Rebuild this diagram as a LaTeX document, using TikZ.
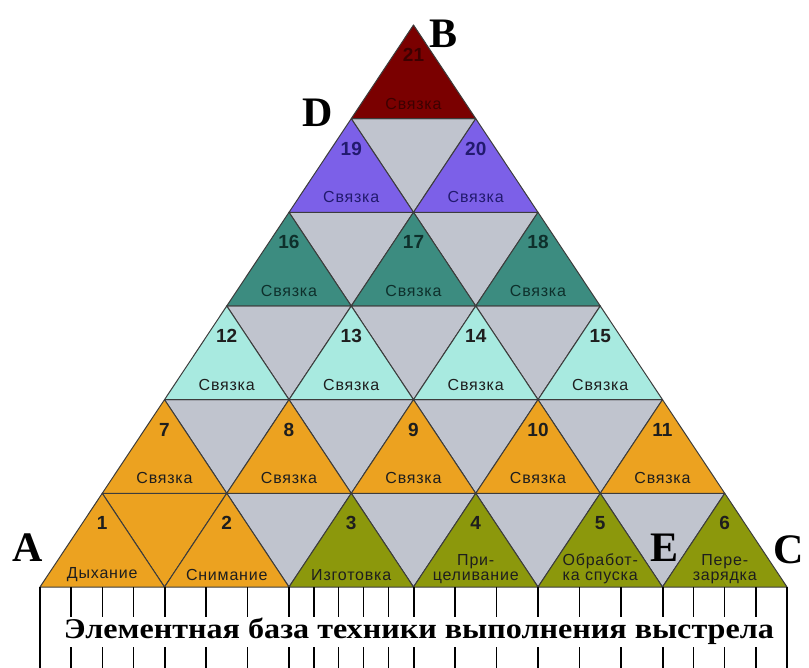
\documentclass[tikz,border=0pt]{standalone}
\usepackage{fontspec}
\usepackage{graphicx}
\setmainfont{Liberation Serif}
\newfontfamily\labelfont[LetterSpace=5]{Liberation Sans}
\newfontfamily\numfont{Liberation Sans}

\definecolor{orangeT}{RGB}{236,162,32}
\definecolor{oliveT}{RGB}{140,152,12}
\definecolor{grayT}{RGB}{192,196,206}
\definecolor{cyanT}{RGB}{168,234,224}
\definecolor{tealT}{RGB}{60,140,128}
\definecolor{violetT}{RGB}{124,96,232}
\definecolor{redT}{RGB}{122,0,0}
\definecolor{edge}{RGB}{60,60,60}
\definecolor{inkDark}{RGB}{30,30,30}
\definecolor{inkTeal}{RGB}{14,48,44}
\definecolor{inkViolet}{RGB}{34,26,110}
\definecolor{inkRed}{RGB}{60,0,0}

\begin{document}
\begin{tikzpicture}[x=1pt, y=-1pt,
	tri/.style={draw=edge, line width=1pt, line join=round},
	num/.style={font=\numfont\bfseries\fontsize{19}{19}\selectfont, text=inkDark},
	lbl/.style={font=\labelfont\fontsize{16}{15}\selectfont, align=center, text=inkDark},
	corner/.style={font=\bfseries\fontsize{42}{42}\selectfont},
	major/.style={line width=2pt},
	minor/.style={line width=1.3pt}]
	\useasboundingbox (0,0) rectangle (809,668);
	% inverted triangles between the blocks
	\foreach \row in {0,...,4} {
		\pgfmathtruncatemacro\last{4-\row}
		\foreach \j in {0,...,\last} {
			\pgfmathsetmacro\xl{102.25+\row*62.25+\j*124.5}
			\pgfmathsetmacro\yt{493.33-\row*93.67}
			\filldraw[tri, fill=grayT] (\xl,\yt) -- ++(124.5,0) -- ++(-62.25,93.67) -- cycle;
		}
	}
	\filldraw[tri, fill=orangeT] (102.25,493.33) -- ++(124.5,0) -- ++(-62.25,93.67) -- cycle;
	% bottom row: the elements
	\foreach \n/\fillc/\txt/\dy in {1/orangeT/Дыхание/12, 2/orangeT/Снимание/12,
		3/oliveT/Изготовка/12, 4/oliveT/{При-\\целивание}/18,
		5/oliveT/{Обработ-\\ка спуска}/18, 6/oliveT/{Пере-\\зарядка}/18} {
		\pgfmathsetmacro\xl{40+(\n-1)*124.5}
		\filldraw[tri, fill=\fillc] (\xl,587) -- ++(124.5,0) -- ++(-62.25,-93.67) -- cycle;
		\node[num] (n\n) at (\xl+62.25, 523) {\n};
		\node[lbl] (s\n) at (\xl+62.25, 587-\dy) {\txt};
	}
	% upper rows: the links
	\foreach \row/\first/\fillc/\ink in {1/7/orangeT/inkDark, 2/12/cyanT/inkDark,
		3/16/tealT/inkTeal, 4/19/violetT/inkViolet, 5/21/redT/inkRed} {
		\pgfmathtruncatemacro\last{\first+5-\row}
		\pgfmathsetmacro\yb{587-\row*93.67}
		\foreach \n in {\first,...,\last} {
			\pgfmathsetmacro\xl{40+\row*62.25+(\n-\first)*124.5}
			\filldraw[tri, fill=\fillc] (\xl,\yb) -- ++(124.5,0) -- ++(-62.25,-93.67) -- cycle;
			\node[num, text=\ink] (n\n) at (\xl+62.25, \yb-63.67) {\n};
			\node[lbl, text=\ink] (s\n) at (\xl+62.25, \yb-15) {Связка};
		}
	}
	% corner letters
	\node[corner] (A) at (28,548) {A};
	\node[corner] (B) at (444,34) {B};
	\node[corner] (C) at (789,550) {C};
	\node[corner] (D) at (318,113) {D};
	\node[corner] (E) at (665,548) {E};
	% base box with its scale
	\draw[major] (40,587) -- (40,668) (787,587) -- (787,668);
	\foreach \xt in {164.5,289,413.5,538,662.5}
		\draw[major] (\xt,587) -- (\xt,617) (\xt,647) -- (\xt,668);
	\foreach \i/\parts in {0/4, 1/3, 2/5, 3/3, 4/3, 5/4} {
		\pgfmathtruncatemacro\lastk{\parts-1}
		\foreach \k in {1,...,\lastk} {
			\pgfmathsetmacro\xt{40+\i*124.5+\k*124.5/\parts}
			\draw[minor] (\xt,587) -- (\xt,617) (\xt,647) -- (\xt,668);
		}
	}
	\node[anchor=base, inner sep=0] (base) at (419,638)
		{\resizebox{710pt}{20.5pt}{\bfseries Элементная база техники выполнения выстрела}};
\end{tikzpicture}
\end{document}
